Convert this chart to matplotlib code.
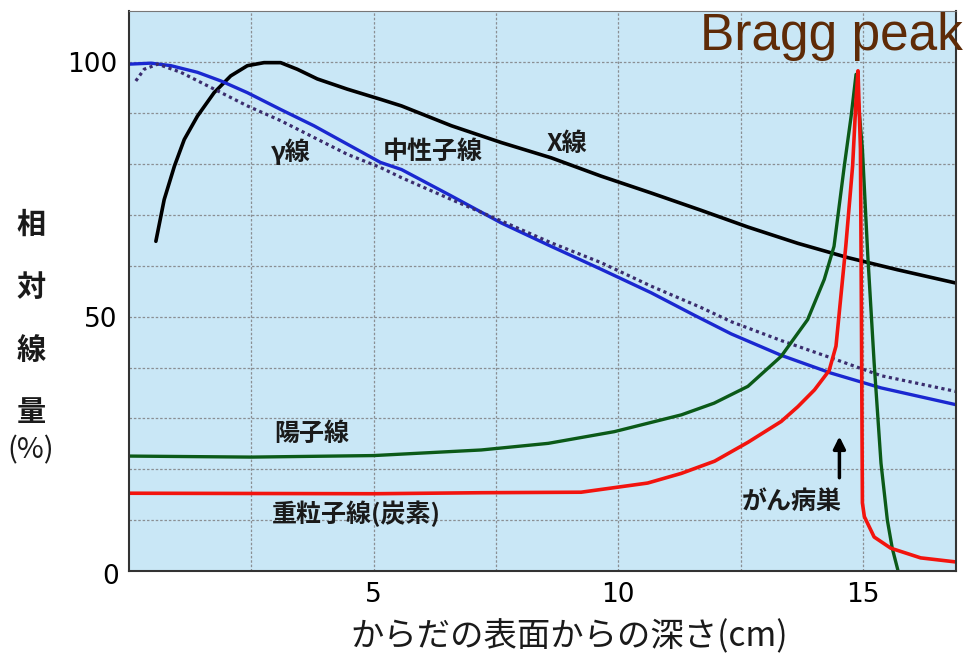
import matplotlib
matplotlib.use("Agg")
import matplotlib.pyplot as plt

plt.rcParams['font.family'] = ['Noto Sans CJK JP', 'DejaVu Sans']

# depth (cm) / relative dose (%)
xray_x = [0.55, 0.72, 0.93, 1.13, 1.40, 1.74, 2.08, 2.42, 2.76, 3.10, 3.44, 3.85, 4.46, 5.14, 5.57,
          6.59, 7.61, 8.63, 9.65, 10.67, 11.69, 12.65, 13.67, 14.69, 15.71, 16.9]
xray_y = [64.8, 73.0, 79.6, 84.8, 89.4, 94.0, 97.3, 99.3, 99.9, 99.9, 98.6, 96.7, 94.7, 92.7, 91.4,
          87.5, 84.2, 81.2, 77.6, 74.3, 70.9, 67.6, 64.4, 61.6, 59.2, 56.6]

gamma_x = [0.14, 0.31, 0.59, 1.06, 1.74, 2.42, 3.10, 3.78, 4.46, 5.14, 5.57, 6.59, 7.61, 8.63, 9.65,
           10.67, 11.69, 12.31, 13.33, 14.35, 15.37, 16.9]
gamma_y = [96.3, 98.6, 99.6, 98.0, 94.7, 91.4, 88.5, 85.2, 81.9, 79.3, 77.3, 73.0, 68.8, 64.5, 60.6,
           56.0, 51.8, 49.0, 45.3, 41.9, 38.4, 35.3]

neutron_x = [0.0, 0.45, 0.86, 1.40, 1.88, 2.42, 3.10, 3.78, 4.46, 5.14, 5.57, 6.59, 7.61, 8.63, 9.65,
             10.67, 11.55, 12.31, 13.33, 14.35, 15.37, 16.9]
neutron_y = [99.6, 99.8, 99.3, 98.0, 96.3, 94.0, 90.7, 87.5, 83.9, 80.3, 78.9, 73.7, 68.4, 63.8, 59.3,
             54.7, 50.3, 46.6, 42.4, 38.9, 36.0, 32.7]

proton_x = [0.0, 2.5, 5.0, 7.2, 8.57, 9.92, 11.29, 11.96, 12.65, 13.33, 13.87, 14.21, 14.41, 14.62,
            14.76, 14.86, 14.99, 15.1, 15.23, 15.37, 15.5, 15.6, 15.72]
proton_y = [22.6, 22.4, 22.7, 23.8, 25.1, 27.4, 30.7, 33.0, 36.3, 42.2, 49.4, 57.3, 63.8, 79.6,
            89.4, 97.6, 82.9, 62.0, 40.9, 21.2, 10.0, 4.5, 0.0]

carbon_x = [0.0, 5.0, 7.2, 9.24, 10.6, 11.29, 11.97, 12.65, 13.33, 13.67, 14.01, 14.31, 14.45, 14.55,
            14.65, 14.79, 14.86, 14.9, 14.95, 14.97, 14.99, 15.03, 15.23, 15.57, 16.18, 16.9]
carbon_y = [15.3, 15.2, 15.4, 15.5, 17.3, 19.2, 21.6, 25.3, 29.4, 32.3, 35.6, 39.4, 44.2, 54.0,
            63.8, 79.6, 92.7, 98.3, 82.9, 50.0, 13.4, 10.7, 6.7, 4.5, 2.6, 1.8]

fig = plt.figure(figsize=(9.66, 6.61), dpi=100)
ax = fig.add_axes([0.1335, 0.136, 0.856, 0.847])
ax.set_facecolor('#C9E7F6')

lkw = dict(solid_joinstyle='round', solid_capstyle='round')
ax.plot(xray_x, xray_y, color='black', lw=2.6, **lkw)
ax.plot(neutron_x, neutron_y, color='#1a28d0', lw=2.4, **lkw)
ax.plot(gamma_x, gamma_y, color='#3b2d6e', lw=2.3, linestyle=(0, (1, 1.1)))
ax.plot(proton_x, proton_y, color='#0b5a18', lw=2.4, **lkw)
ax.plot(carbon_x, carbon_y, color='#f2140e', lw=2.6, **lkw)

ax.set_xlim(0, 16.9)
ax.set_ylim(0, 110)
ax.set_xticks([2.5, 5, 7.5, 10, 12.5, 15])
ax.set_xticklabels(['', '5', '', '10', '', '15'])
ax.set_yticks([10, 20, 30, 40, 50, 60, 70, 80, 90, 100])
ax.set_yticklabels(['', '', '', '', '50', '', '', '', '', '100'])
ax.tick_params(length=0, labelsize=19, pad=8)
for lab in ax.get_xticklabels() + ax.get_yticklabels():
    lab.set_family(['DejaVu Sans'])
ax.text(-0.2, -1.2, '0', ha='right', va='center', fontsize=19, family=['DejaVu Sans'])
ax.grid(True, color='#8a8f93', lw=0.9, linestyle=(0, (2, 1.5)))
ax.set_axisbelow(True)
for s in ['left', 'bottom', 'right']:
    ax.spines[s].set_color('#333333')
    ax.spines[s].set_linewidth(1.5)
ax.spines['top'].set_color('#777777')

# curve labels
kw = dict(fontsize=18, fontweight='bold', ha='center', va='center', color='#1a1a1a')
ax.text(3.3, 82.3, 'γ線', **kw)
ax.text(6.2, 82.3, '中性子線', **kw)
ax.text(8.95, 84.0, 'X線', **kw)
ax.text(3.73, 27.0, '陽子線', **kw)
ax.text(4.65, 11.2, '重粒子線(炭素)', **kw)
ax.text(13.55, 13.6, 'がん病巣', **kw)
ax.annotate('', xy=(14.52, 27), xytext=(14.52, 17.8),
            arrowprops=dict(arrowstyle='-|>', color='black', lw=2.5, mutation_scale=18))

fig.text(0.997, 0.924, 'Bragg peak', ha='right', va='baseline', fontsize=37,
         color='#5e2b07', family=['Liberation Sans'])

# vertical y label
ylab = ['相', '対', '線', '量', '(%)']
ylab_pos = [225, 287, 350, 412, 450]
for t, py in zip(ylab, ylab_pos):
    fig.text(31 / 966, 1 - py / 661, t, ha='center', va='center', fontsize=21,
             fontweight='bold' if t != '(%)' else 'normal', color='#1a1a1a')

fig.text(569 / 966, 1 - 637 / 661, 'からだの表面からの深さ(cm)', ha='center', va='center',
         fontsize=24, color='#1a1a1a')

fig.savefig('out.png', dpi=100)
